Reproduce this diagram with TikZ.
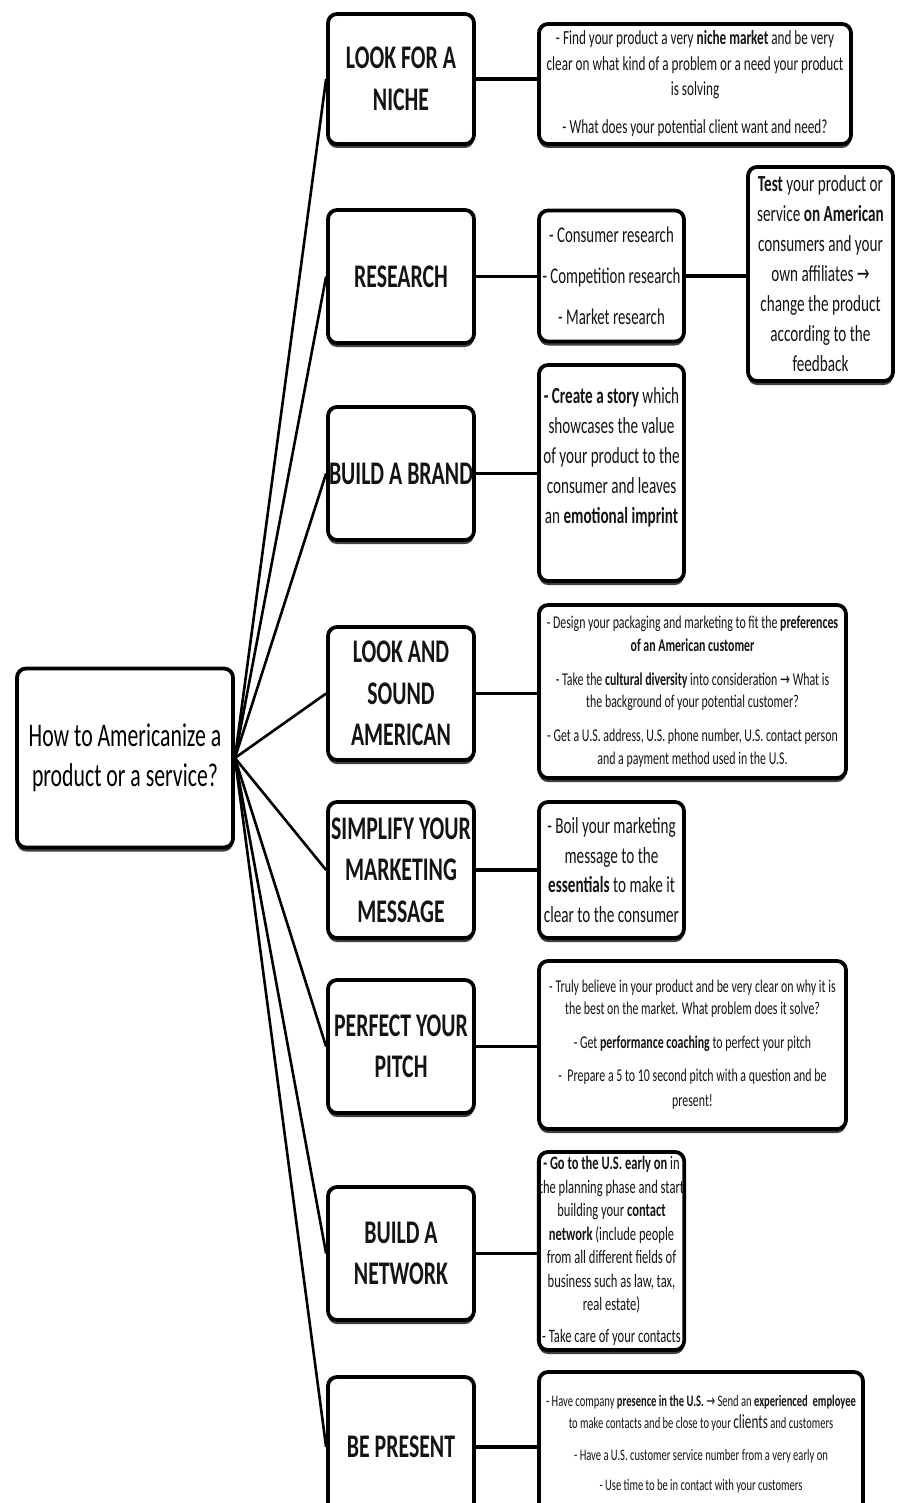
\documentclass[tikz,border=0pt]{standalone}
\usepackage{fontspec}
\setmainfont{Carlito}[FakeStretch=0.66]
\newfontfamily\arr{DejaVu Sans}[FakeStretch=0.66]
\usetikzlibrary{shadows}
\newcommand{\ra}{{\arr\mdseries →}}
\tikzset{
  box/.style={draw=black, line width=3.8pt, rounded corners=9pt, fill=white,
    drop shadow={shadow xshift=0pt, shadow yshift=-4pt, opacity=0.75, fill=black},
    inner sep=0pt, align=center, text=black!92},
  cat/.style={box, minimum width=146pt, font={\fontsize{33}{41.5}\selectfont\bfseries}},
  conn/.style={draw=black, line width=2.6pt},
  hconn/.style={draw=black, line width=3.6pt},
  txt/.style={align=center, inner sep=0pt, text=black!92},
}
\begin{document}
\begin{tikzpicture}[x=1pt,y=-1pt]
\useasboundingbox (0,0) rectangle (898,1503);
\clip (0,0) rectangle (898,1503);
\fill[white] (0,0) rectangle (898,1503);

% centre
\node[box, minimum width=216pt, minimum height=179pt, text=black, font={\fontsize{33}{40}\selectfont}] (root) at (125,758)
  {How to Americanize a\\product or a service?};

% categories
\node[cat, minimum height=130pt] (c1) at (401,79) {LOOK FOR A\\NICHE};
\node[cat, minimum height=133pt] (c2) at (401,276.5) {RESEARCH};
\node[cat, minimum height=133pt] (c3) at (401,473.5) {BUILD A BRAND};
\node[cat, minimum height=133pt] (c4) at (401,693.5) {LOOK AND\\SOUND\\AMERICAN};
\node[cat, minimum height=136pt] (c5) at (401,870) {SIMPLIFY YOUR\\MARKETING\\MESSAGE};
\node[cat, minimum height=133pt] (c6) at (401,1046.5) {PERFECT YOUR\\PITCH};
\node[cat, minimum height=133pt] (c7) at (401,1253.5) {BUILD A\\NETWORK};
\node[cat, minimum height=140pt] (c8) at (401,1447) {BE PRESENT};

% details
\node[box, minimum width=312pt, minimum height=120pt, font={\fontsize{20}{25.5}\selectfont}] (d1) at (695,84)
  {- Find your product a very \textbf{niche market} and be very\\
   clear on what kind of a problem or a need your product\\
   is solving\\[12.5pt]
   - What does your potential client want and need?};

\node[box, minimum width=145pt, minimum height=131pt, font={\fontsize{22.5}{41}\selectfont}] (d2) at (611.5,276)
  {- Consumer research\\- Competition research\\- Market research};

\node[box, minimum width=145pt, minimum height=214pt, font={\fontsize{23}{30}\selectfont}] (d2b) at (820.5,274)
  {\textbf{Test} your product or\\service \textbf{on American}\\consumers and your\\own affiliates \ra\\change the product\\according to the\\feedback};

\node[box, minimum width=145pt, minimum height=216pt] (d3) at (611.5,473) {};
\node[txt, font={\fontsize{23}{30}\selectfont}] (d3t) at (611.5,457)
  {\textbf{- Create a story} which\\showcases the value\\of your product to the\\consumer and leaves\\an \textbf{emotional imprint}};

\node[box, minimum width=307pt, minimum height=173pt, font={\fontsize{18}{22.5}\selectfont}] (d4) at (692.5,691.5)
  {- Design your packaging and marketing to fit the \textbf{preferences}\\
   \textbf{of an American customer}\\[11.5pt]
   - Take the \textbf{cultural diversity} into consideration \ra{} What is\\
   the background of your potential customer?\\[11.5pt]
   - Get a U.S. address, U.S. phone number, U.S. contact person\\
   and a payment method used in the U.S.};

\node[box, minimum width=145pt, minimum height=136pt, font={\fontsize{23}{29.5}\selectfont}] (d5) at (611.5,870)
  {- Boil your marketing\\message to the\\\textbf{essentials} to make it\\clear to the consumer};

\node[box, minimum width=307pt, minimum height=168pt, font={\fontsize{18}{22}\selectfont}] (d6) at (692.5,1045)
  {- Truly believe in your product and be very clear on why it is\\
   the best on the market. What problem does it solve?\\[12pt]
   - Get \textbf{performance coaching} to perfect your pitch\\[11pt]
   -\ \ Prepare a 5 to 10 second pitch with a question and be\\[3pt]
   present!};

\node[box, minimum width=145pt, minimum height=198pt, font={\fontsize{19}{23.5}\selectfont}] (d7) at (611.5,1251)
  {\textbf{- Go to the U.S. early on} in\\the planning phase and start\\building your \textbf{contact}\\
   \textbf{network} (include people\\from all different fields of\\business such as law, tax,\\real estate)\\[8.5pt]
   - Take care of your contacts};

\node[box, minimum width=324pt, minimum height=144pt, font={\fontsize{16}{22}\selectfont}] (d8) at (701,1444)
  {- Have company \textbf{presence in the U.S.} \ra{} Send an \textbf{experienced}\ \ \textbf{employee}\\
   to make contacts and be close to your {\fontsize{20}{22}\selectfont clients} and customers\\[10pt]
   - Have a U.S. customer service number from a very early on\\[8pt]
   - Use time to be in contact with your customers};

% connectors
\foreach \c in {c1,c2,c3,c4,c5,c6,c7,c8}
  \draw[conn] (root.east) -- (\c.west);
\draw[hconn] (c1.east) -- (c1.east -| d1.west);
\draw[hconn] (c2.east) -- (c2.east -| d2.west);
\draw[hconn] (d2.east) -- (d2.east -| d2b.west);
\draw[hconn] (c3.east) -- (c3.east -| d3.west);
\draw[hconn] (c4.east) -- (c4.east -| d4.west);
\draw[hconn] (c5.east) -- (c5.east -| d5.west);
\draw[hconn] (c6.east) -- (c6.east -| d6.west);
\draw[hconn] (c7.east) -- (c7.east -| d7.west);
\draw[hconn] (c8.east) -- (c8.east -| d8.west);
\end{tikzpicture}
\end{document}
